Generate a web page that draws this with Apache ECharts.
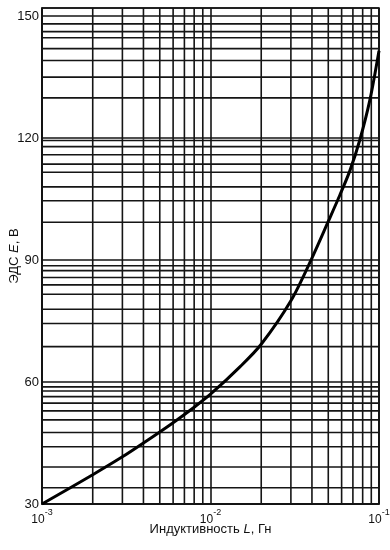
<!DOCTYPE html>
<html>
<head>
<meta charset="utf-8">
<script src="https://cdn.jsdelivr.net/npm/echarts@6/dist/echarts.min.js"></script>
<style>
  html, body { margin: 0; padding: 0; background: #fff; }
  #chart { width: 390px; height: 550px; }
</style>
</head>
<body>
<div id="chart"></div>
<script>
// Curve: EMF E (V) vs inductance L (H)
const inductance = [0.001, 0.002, 0.003, 0.004, 0.006, 0.008, 0.01, 0.015, 0.02, 0.03, 0.04, 0.05, 0.0586, 0.0672, 0.077, 0.0883, 0.1];
const emf = [30, 37.2, 41.6, 45.0, 50.0, 53.8, 57.0, 63.8, 69.3, 80.0, 90.5, 99.5, 106.0, 112.0, 119.6, 129.4, 141.5];

// Axis ticks
const yTicks = [30, 60, 90, 120, 150];
const xDecades = [0.001, 0.01, 0.1];

// Minor grid lines of the printed graph paper
const vGridValues = [0.002, 0.003, 0.004, 0.005, 0.006, 0.007, 0.008, 0.009,
                     0.02, 0.03, 0.04, 0.05, 0.06, 0.07, 0.08, 0.09];
const hGridValues = [148.1, 146.2, 144.7, 142.0, 139.1, 135.0, 129.9,
                     119.4, 117.9, 115.9, 113.6, 111.6, 108.0, 104.6, 99.3,
                     88.6, 87.4, 85.7, 83.9, 81.6, 77.9, 74.4, 68.7,
                     58.8, 57.8, 56.4, 54.8, 52.9, 50.7, 47.6, 44.1, 39.1, 34.0];

const yMin = 30, yMax = 152;
const gridColor = '#151515';
const gridWidth = 1.6;
const font = 'Liberation Sans, Arial, sans-serif';
const chart = echarts.init(document.getElementById('chart'));

const gridSeries = [];
vGridValues.forEach(function (v) {
  gridSeries.push({
    type: 'line', silent: true, showSymbol: false, z: 1,
    data: [[v, yMin], [v, yMax]],
    lineStyle: { color: gridColor, width: gridWidth }
  });
});
hGridValues.forEach(function (v) {
  gridSeries.push({
    type: 'line', silent: true, showSymbol: false, z: 1,
    data: [[xDecades[0], v], [xDecades[xDecades.length - 1], v]],
    lineStyle: { color: gridColor, width: gridWidth }
  });
});

chart.setOption({
  animation: false,
  backgroundColor: '#fff',
  grid: {
    left: 42, right: 11, top: 8, bottom: 46,
    outerBoundsMode: 'none',
    containLabel: false,
    show: true, borderColor: '#111', borderWidth: 1.6, backgroundColor: 'transparent'
  },
  xAxis: {
    type: 'log',
    min: xDecades[0],
    max: xDecades[xDecades.length - 1],
    logBase: 10,
    name: '{n|Индуктивность }{i|L}{n|, Гн}',
    nameLocation: 'middle',
    nameGap: 19,
    nameMoveOverlap: false,
    nameTextStyle: {
      rich: {
        n: { fontFamily: font, fontSize: 13, color: '#111' },
        i: { fontFamily: font, fontSize: 13, color: '#111', fontStyle: 'italic' }
      }
    },
    axisLine: { show: true, lineStyle: { color: '#111', width: 1.6 } },
    axisTick: { show: false },
    splitLine: { show: true, lineStyle: { color: gridColor, width: gridWidth } },
    minorSplitLine: { show: false },
    axisLabel: {
      margin: 4,
      alignMaxLabel: 'right',
      formatter: function (v) {
        const e = Math.round(Math.log10(v));
        return '{b|10}{s|' + e + '}';
      },
      rich: {
        b: { fontFamily: font, fontSize: 12, color: '#111', lineHeight: 18, verticalAlign: 'bottom' },
        s: { fontFamily: font, fontSize: 9, color: '#111', lineHeight: 10, verticalAlign: 'top' }
      }
    }
  },
  yAxis: {
    type: 'value',
    min: yMin,
    max: yMax,
    interval: 30,
    name: '{n|ЭДС }{i|E}{n|, В}',
    nameLocation: 'middle',
    nameGap: 21,
    nameMoveOverlap: false,
    nameTextStyle: {
      rich: {
        n: { fontFamily: font, fontSize: 13, color: '#111' },
        i: { fontFamily: font, fontSize: 13, color: '#111', fontStyle: 'italic' }
      }
    },
    axisLine: { show: true, lineStyle: { color: '#111', width: 1.6 } },
    axisTick: { show: false },
    splitLine: { show: true, lineStyle: { color: gridColor, width: gridWidth } },
    axisLabel: {
      margin: 3,
      fontFamily: font,
      fontSize: 13,
      color: '#111',
      formatter: function (v) { return yTicks.indexOf(v) >= 0 ? String(v) : ''; }
    }
  },
  series: gridSeries.concat([
    {
      type: 'line',
      data: inductance.map(function (x, i) { return [x, emf[i]]; }),
      smooth: 0.3,
      showSymbol: false,
      lineStyle: { color: '#000', width: 3 },
      z: 5
    }
  ])
});
</script>
</body>
</html>
